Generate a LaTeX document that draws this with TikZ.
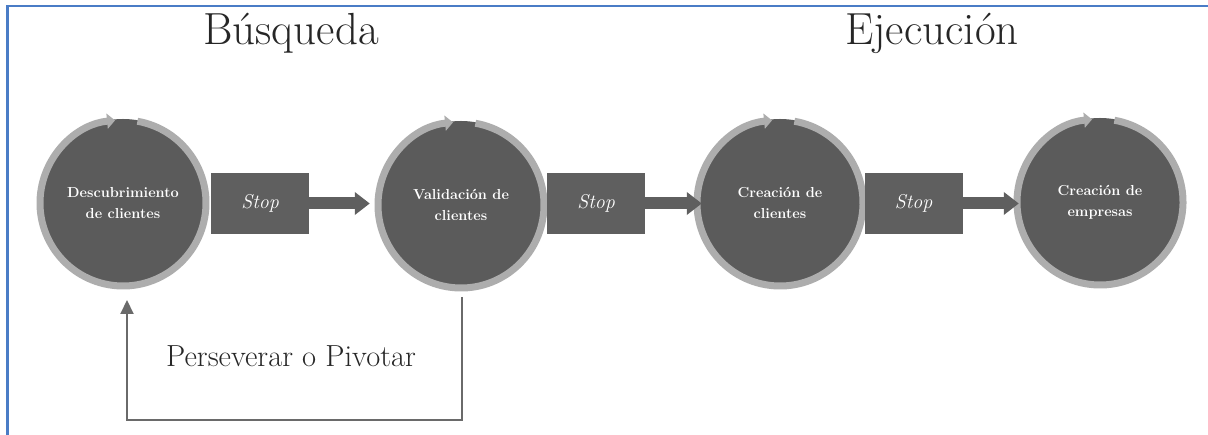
\documentclass[tikz,border=0pt]{standalone}
\usepackage{fontspec}
\usetikzlibrary{arrows.meta}
\definecolor{frameblue}{HTML}{4A7CC6}
\definecolor{darkc}{HTML}{5B5B5B}
\definecolor{ringc}{HTML}{ADADAD}
\definecolor{boxc}{HTML}{5F5F5F}
\definecolor{linec}{HTML}{6A6A6A}
\tikzset{
  phase/.style={circle, fill=darkc, minimum size=168pt, inner sep=0pt, text=white, align=center,
    font=\bfseries\fontsize{14.5}{21}\selectfont},
  ring/.style={draw=ringc, line width=7pt, -{Triangle[width=15pt,length=8pt]}},
  stopbox/.style={rectangle, fill=boxc, minimum width=98pt, minimum height=61pt, inner sep=0pt,
    text=white, font=\itshape\fontsize{20}{22}\selectfont},
  flow/.style={draw=boxc, line width=12pt, -{Triangle[width=22pt,length=15pt]}},
  back/.style={draw=linec, line width=2pt, -{Triangle[width=13pt,length=14pt]}},
  title/.style={anchor=base, font=\fontsize{45}{50}\selectfont, text=black!85},
}
\begin{document}
\begin{tikzpicture}[x=1pt,y=1pt]
\useasboundingbox (0,0) rectangle (1208,435);
% frame
\draw[frameblue, line width=2.5pt] (7.5,0) -- (7.5,429) -- (1208,429);
% titles
\node[title] (t1) at (291,390) {Búsqueda};
\node[title] (t2) at (932,390) {Ejecución};
% phases
\node[phase] (c1) at (123,232) {Descubrimiento\\de clientes};
\node[phase] (c2) at (461,230) {Validación de\\clientes};
\node[phase] (c3) at (780,232) {Creación de\\clientes};
\node[phase] (c4) at (1100,233) {Creación de\\empresas};
\foreach \c in {c1,c2,c3,c4}{
  \draw[ring] (\c.center) ++(80:83) arc[start angle=80, end angle=-264.5, radius=83];
}
% stop boxes
\node[stopbox] (s1) at (260,231.5) {Stop};
\node[stopbox] (s2) at (596,231.5) {Stop};
\node[stopbox] (s3) at (913.5,231.5) {Stop};
% connectors
\draw[flow] (s1.east) -- ([xshift=-7pt]s1.east -| c2.west);
\draw[flow] (s2.east) -- ([xshift=6pt]s2.east -| c3.west);
\draw[flow] (s3.east) -- ([xshift=3pt]s3.east -| c4.west);
% feedback loop
\coordinate (fb1) at (462,138);
\coordinate (fb2) at (462,15);
\coordinate (fb3) at (127,15);
\coordinate (fb4) at (127,135);
\draw[back] (fb1) -- (fb2) -- (fb3) -- (fb4);
\node[anchor=base, font=\fontsize{30.5}{33}\selectfont, text=black!85] (pp) at (291,68) {Perseverar o Pivotar};
\end{tikzpicture}
\end{document}
